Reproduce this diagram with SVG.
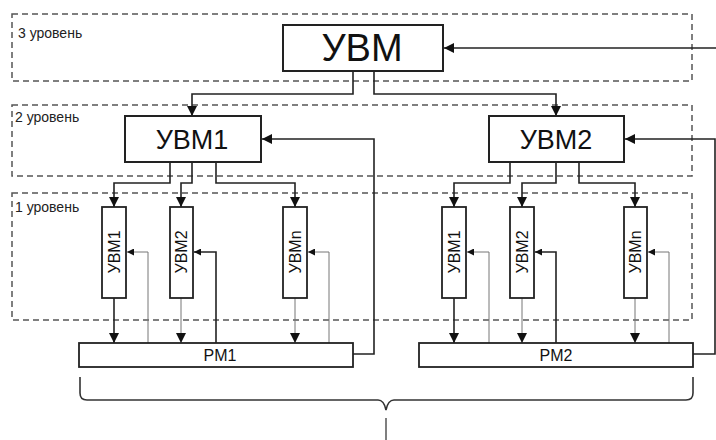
<svg xmlns="http://www.w3.org/2000/svg" width="716" height="440" viewBox="0 0 716 440">
<style>
.lvl{fill:none;stroke:#555;stroke-width:1.5;stroke-dasharray:6,4}
.box{fill:#fff;stroke:#222;stroke-width:2}
.sm{fill:#fff;stroke:#222;stroke-width:1.8}
.ln{fill:none;stroke:#222;stroke-width:1.6}
.th{fill:none;stroke:#777;stroke-width:1}
.t{font-family:"Liberation Sans",Arial,sans-serif;fill:#111}
.r{font-size:16px;text-anchor:middle}
.lt{font-family:"Liberation Sans",Arial,sans-serif;fill:#222;font-size:14px}
</style>
<defs>
<marker id="ar" viewBox="0 0 10 10" refX="10" refY="5" markerWidth="7" markerHeight="7" markerUnits="userSpaceOnUse" orient="auto"><path d="M0,0L10,5L0,10z" fill="#111"/></marker>
<marker id="ar2" viewBox="0 0 10 10" refX="10" refY="5" markerWidth="10" markerHeight="10" markerUnits="userSpaceOnUse" orient="auto"><path d="M0,0L10,5L0,10z" fill="#111"/></marker>
</defs>
<g id="levels">
<rect class="lvl" x="12" y="14" width="680" height="67"/>
<text class="lt" x="18" y="38">3 уровень</text>
<rect class="lvl" x="12" y="105" width="680" height="71"/>
<text class="lt" x="15" y="122">2 уровень</text>
<rect class="lvl" x="12" y="193" width="680" height="127"/>
<text class="lt" x="15" y="212">1 уровень</text>
</g>
<g id="connectors">
<line class="ln" x1="716" y1="48" x2="444" y2="48" marker-end="url(#ar2)"/>
<path class="ln" d="M353,71V94H192V116" marker-end="url(#ar2)"/>
<path class="ln" d="M374,71V94H556V116" marker-end="url(#ar2)"/>
<path class="ln" d="M353,354H374V139H262" marker-end="url(#ar2)"/>
<path class="ln" d="M693,354H715V139H625" marker-end="url(#ar2)"/>
<path class="ln" d="M170,162V183H114V207" marker-end="url(#ar2)"/>
<path class="ln" d="M192,162V183H181V207" marker-end="url(#ar2)"/>
<path class="ln" d="M216,162V183H295V207" marker-end="url(#ar2)"/>
<path class="ln" d="M510,162V183H454V207" marker-end="url(#ar2)"/>
<path class="ln" d="M556,162V183H522V207" marker-end="url(#ar2)"/>
<path class="ln" d="M579,162V183H635V207" marker-end="url(#ar2)"/>
<line class="ln" x1="114" y1="298" x2="114" y2="343" marker-end="url(#ar2)"/>
<line class="th" x1="181" y1="298" x2="181" y2="343" marker-end="url(#ar2)"/>
<line class="th" x1="295" y1="298" x2="295" y2="343" marker-end="url(#ar2)"/>
<line class="ln" x1="454" y1="298" x2="454" y2="343" marker-end="url(#ar2)"/>
<line class="th" x1="522" y1="298" x2="522" y2="343" marker-end="url(#ar2)"/>
<line class="th" x1="635" y1="298" x2="635" y2="343" marker-end="url(#ar2)"/>
<path class="th" d="M148,343V252H127" marker-end="url(#ar)"/>
<path class="ln" d="M216,343V252H194" marker-end="url(#ar)"/>
<path class="th" d="M329,343V252H308" marker-end="url(#ar)"/>
<path class="th" d="M489,343V252H467" marker-end="url(#ar)"/>
<path class="ln" d="M556,343V252H535" marker-end="url(#ar)"/>
<path class="th" d="M669,343V252H648" marker-end="url(#ar)"/>
<path d="M80,377V393Q80,400 87,400H378Q384,400 386,410Q388,400 394,400H686Q693,400 693,393V377" fill="none" stroke="#333" stroke-width="1.6"/>
<line x1="386" y1="418" x2="386" y2="440" stroke="#555" stroke-width="1.5"/>
</g>
<g id="uvm"><rect class="box" x="283" y="25" width="160" height="46"/><text class="t" x="362" y="61" font-size="38" text-anchor="middle">УВМ</text></g>
<g id="uvm1"><rect class="box" x="125" y="116" width="136" height="46"/><text class="t" x="192" y="149" font-size="27" text-anchor="middle">УВМ1</text></g>
<g id="uvm2"><rect class="box" x="489" y="116" width="135" height="46"/><text class="t" x="556" y="149" font-size="27" text-anchor="middle">УВМ2</text></g>
<g id="g1m1"><rect class="sm" x="102" y="207" width="24" height="91"/><text class="t r" transform="translate(119.5,252) rotate(-90)">УВМ1</text></g>
<g id="g1m2"><rect class="sm" x="170" y="207" width="23" height="91"/><text class="t r" transform="translate(187,252) rotate(-90)">УВМ2</text></g>
<g id="g1mn"><rect class="sm" x="283" y="207" width="24" height="91"/><text class="t r" transform="translate(300.5,252) rotate(-90)">УВМn</text></g>
<g id="g2m1"><rect class="sm" x="442" y="207" width="24" height="91"/><text class="t r" transform="translate(459.5,252) rotate(-90)">УВМ1</text></g>
<g id="g2m2"><rect class="sm" x="510" y="207" width="24" height="91"/><text class="t r" transform="translate(527.5,252) rotate(-90)">УВМ2</text></g>
<g id="g2mn"><rect class="sm" x="624" y="207" width="23" height="91"/><text class="t r" transform="translate(641,252) rotate(-90)">УВМn</text></g>
<g id="pm1"><rect class="sm" x="79" y="343" width="274" height="24"/><text class="t" x="220" y="361" font-size="16" text-anchor="middle">PM1</text></g>
<g id="pm2"><rect class="sm" x="419" y="343" width="274" height="24"/><text class="t" x="556" y="361" font-size="16" text-anchor="middle">PM2</text></g>
</svg>
